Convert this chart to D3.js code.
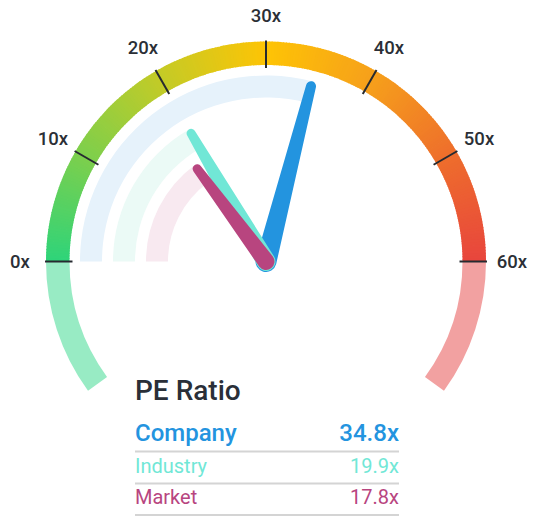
<!DOCTYPE html>
<html>
<head>
<meta charset="utf-8">
<script src="https://cdn.jsdelivr.net/npm/d3@7"></script>
<style>
  body { margin: 0; background: #fff; }
  svg { display: block; font-family: Roboto, "Noto Sans", sans-serif; }
</style>
</head>
<body>
<div id="chart"></div>
<script>
// PE ratio values
const names = ["Company", "Industry", "Market"];
const values = [34.8, 19.9, 17.8];
const colors = ["#2394df", "#71e7d6", "#b8457f"];
const bandColors = ["#e6f2fb", "#ebfaf6", "#f8e9f0"];

// gauge ticks
const ticks = [0, 10, 20, 30, 40, 50, 60];
const tickLabels = ["0x", "10x", "20x", "30x", "40x", "50x", "60x"];
const stopValues = [0, 10, 20, 30, 40, 50, 60];
const stopColors = ["#2ed47a", "#7dcf4c", "#c3cb27", "#fec405", "#f6a01b", "#ee6e2c", "#e8453d"];

const W = 534, H = 517;
const cx = 266, cy = 261.5;
const rOuter = 220, rInner = 196.5;

const svg = d3.select("#chart").append("svg")
  .attr("width", W)
  .attr("height", H);

const g = svg.append("g").attr("transform", `translate(${cx},${cy})`);

// value -> angle (0 at top, clockwise)
const angle = d3.scaleLinear().domain([0, 60]).range([-Math.PI / 2, Math.PI / 2]);
const colorScale = d3.scaleLinear().domain(stopValues).range(stopColors);

// faded tails below the horizontal
const tail = 36 * Math.PI / 180;
const arc = d3.arc();
g.append("path")
  .attr("d", arc({innerRadius: rInner, outerRadius: rOuter, startAngle: -Math.PI / 2 - tail, endAngle: -Math.PI / 2}))
  .attr("fill", "#98ebc4");
g.append("path")
  .attr("d", arc({innerRadius: rInner, outerRadius: rOuter, startAngle: Math.PI / 2, endAngle: Math.PI / 2 + tail}))
  .attr("fill", "#f2a1a1");

// coloured gauge, built from small slices
const steps = d3.range(0, 60, 0.25);
g.selectAll("path.seg")
  .data(steps)
  .enter().append("path")
  .attr("class", "seg")
  .attr("d", d => arc({innerRadius: rInner, outerRadius: rOuter,
    startAngle: angle(d), endAngle: Math.min(angle(d + 0.25) + 0.004, Math.PI / 2)}))
  .attr("fill", d => colorScale(d + 0.125));

// ticks
g.selectAll("line.tick")
  .data(ticks)
  .enter().append("line")
  .attr("class", "tick")
  .attr("x1", d => Math.sin(angle(d)) * (rInner - 3))
  .attr("y1", d => -Math.cos(angle(d)) * (rInner - 3))
  .attr("x2", d => Math.sin(angle(d)) * (rOuter + 1))
  .attr("y2", d => -Math.cos(angle(d)) * (rOuter + 1))
  .attr("stroke", "#262a30")
  .attr("stroke-width", 2);

// tick labels
g.selectAll("text.lbl")
  .data(ticks)
  .enter().append("text")
  .attr("class", "lbl")
  .attr("x", d => Math.sin(angle(d)) * 246)
  .attr("y", d => -Math.cos(angle(d)) * 246)
  .attr("text-anchor", "middle")
  .attr("dominant-baseline", "central")
  .style("font-size", "18.5px")
  .style("font-weight", 500)
  .style("fill", "#2b2f36")
  .text((d, i) => tickLabels[i]);

// background bands for each value
const bandOuter = [186, 153, 120];
const bandWidth = 22;
g.selectAll("path.band")
  .data(values)
  .enter().append("path")
  .attr("class", "band")
  .attr("d", (d, i) => arc({innerRadius: bandOuter[i] - bandWidth, outerRadius: bandOuter[i],
    startAngle: angle(0), endAngle: angle(d)}))
  .attr("fill", (d, i) => bandColors[i]);

// tapered needle with round ends
function needle(a, len, rb, rt) {
  const ux = Math.sin(a), uy = -Math.cos(a);
  const px = -uy, py = ux;
  const tx = ux * len, ty = uy * len;
  return `M${px * rb},${py * rb}` +
    `L${tx + px * rt},${ty + py * rt}` +
    `A${rt},${rt} 0 0 0 ${tx - px * rt},${ty - py * rt}` +
    `L${-px * rb},${-py * rb}` +
    `A${rb},${rb} 0 0 0 ${px * rb},${py * rb}Z`;
}
const needleBase = [10.5, 9.5, 8.5];
const needleTip = [5, 4.5, 4.5];
g.selectAll("path.needle")
  .data(values)
  .enter().append("path")
  .attr("class", "needle")
  .attr("d", (d, i) => needle(angle(d), bandOuter[i] - needleTip[i], needleBase[i], needleTip[i]))
  .attr("fill", (d, i) => colors[i]);

// legend table
svg.append("text")
  .attr("x", 135).attr("y", 400)
  .style("font-size", "28px")
  .style("font-weight", 500)
  .style("fill", "#2a2f38")
  .text("PE Ratio");

const rowY = [441, 473, 504];
const lineY = [451.5, 483.5, 515];
const rowSize = [24, 20, 20];
const rowWeight = [500, 400, 400];
names.forEach((n, i) => {
  svg.append("text")
    .attr("x", 135).attr("y", rowY[i])
    .style("font-size", rowSize[i] + "px")
    .style("font-weight", rowWeight[i])
    .style("fill", colors[i])
    .text(n);
  svg.append("text")
    .attr("x", 399).attr("y", rowY[i])
    .attr("text-anchor", "end")
    .style("font-size", rowSize[i] + "px")
    .style("font-weight", rowWeight[i])
    .style("fill", colors[i])
    .text(values[i].toFixed(1) + "x");
  svg.append("line")
    .attr("x1", 135).attr("x2", 399)
    .attr("y1", lineY[i]).attr("y2", lineY[i])
    .attr("stroke", "#d4d4d4")
    .attr("stroke-width", 2);
});
</script>
</body>
</html>
